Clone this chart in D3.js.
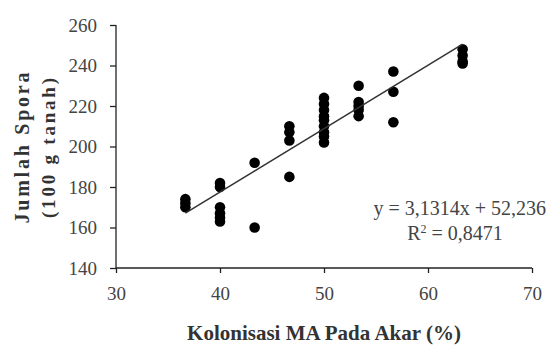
<!DOCTYPE html>
<html>
<head>
<meta charset="utf-8">
<script src="https://cdn.jsdelivr.net/npm/d3@7"></script>
<style>
  body { margin: 0; background: #fff; }
  svg { display: block; }
  svg text { font-family: "Liberation Serif", "DejaVu Serif", "Noto Serif", Tinos, serif; }
  .axis path, .axis line { stroke: #222; stroke-width: 1.3; }
  .axis text { font-size: 19px; fill: #444; }
</style>
</head>
<body>
<svg id="chart"></svg>
<script>
const kolonisasi = [36.67, 40, 43.33, 46.67, 50, 53.33, 56.67, 63.33]
const spora = [
  [174, 172, 170],
  [182, 180, 170, 167, 165, 163],
  [192, 160],
  [210, 207, 203, 185],
  [224, 221, 218, 215, 213, 210, 207, 205, 202],
  [230, 222, 220, 218, 215],
  [237, 227, 212],
  [248, 245, 242, 241]
]
const xTicks = [30, 40, 50, 60, 70]
const yTicks = [140, 160, 180, 200, 220, 240, 260]
const slope = 3.1314
const intercept = 52.236
const eqText = "y = 3,1314x  + 52,236"
const r2Text = "0,8471"

const W = 549, H = 347

const svg = d3.select("#chart").attr("width", W).attr("height", H)

const x = d3.scaleLinear().domain([30, 70]).range([116, 532])
const y = d3.scaleLinear().domain([140, 260]).range([268, 25])

// flatten points
const points = []
kolonisasi.forEach(function (k, i) {
  spora[i].forEach(function (s) { points.push({ x: k, y: s }) })
})

// axes
svg.append("g")
  .attr("class", "axis")
  .attr("transform", "translate(" + x(30) + ",0)")
  .call(d3.axisLeft(y).tickValues(yTicks).tickSize(6).tickPadding(13).tickFormat(d3.format("d")))

svg.append("g")
  .attr("class", "axis")
  .attr("transform", "translate(0," + y(140) + ")")
  .call(d3.axisBottom(x).tickValues(xTicks).tickSize(5).tickPadding(14).tickFormat(d3.format("d")))

// plain domain lines without end ticks
svg.selectAll(".axis .domain").remove()
svg.append("line").attr("x1", x(30)).attr("x2", x(30)).attr("y1", y(260)).attr("y2", y(140))
  .attr("stroke", "#222").attr("stroke-width", 1.3)
svg.append("line").attr("x1", x(30)).attr("x2", x(70)).attr("y1", y(140)).attr("y2", y(140))
  .attr("stroke", "#222").attr("stroke-width", 1.3)

// points
svg.append("g")
  .selectAll("circle")
  .data(points)
  .enter()
  .append("circle")
  .attr("cx", function (d) { return x(d.x) })
  .attr("cy", function (d) { return y(d.y) })
  .attr("r", 5.3)
  .attr("fill", "#000")

// trend line
const xMin = d3.min(kolonisasi), xMax = d3.max(kolonisasi)
svg.append("line")
  .attr("x1", x(xMin)).attr("y1", y(slope * xMin + intercept))
  .attr("x2", x(xMax)).attr("y2", y(slope * xMax + intercept))
  .attr("stroke", "#333").attr("stroke-width", 1.5)

// equation
svg.append("text")
  .attr("x", 546).attr("y", 215)
  .attr("text-anchor", "end")
  .style("font-size", "20px").style("fill", "#444")
  .text(eqText)

const r2 = svg.append("text")
  .attr("x", 455).attr("y", 240)
  .attr("text-anchor", "middle")
  .style("font-size", "20px").style("fill", "#444")
r2.append("tspan").text("R")
r2.append("tspan").attr("dy", -7).style("font-size", "12px").text("2")
r2.append("tspan").attr("dy", 7).text(" = " + r2Text)

// axis titles
svg.append("text")
  .attr("x", 324).attr("y", 340)
  .attr("text-anchor", "middle")
  .style("font-size", "21px").style("font-weight", "bold").style("fill", "#333")
  .text("Kolonisasi MA Pada Akar (%)")

svg.append("text")
  .attr("transform", "translate(29,148) rotate(-90)")
  .attr("text-anchor", "middle")
  .attr("textLength", 151).attr("lengthAdjust", "spacing")
  .style("font-size", "20px").style("font-weight", "bold").style("fill", "#333")
  .text("Jumlah Spora")

svg.append("text")
  .attr("transform", "translate(55,148) rotate(-90)")
  .attr("text-anchor", "middle")
  .attr("textLength", 140).attr("lengthAdjust", "spacing")
  .style("font-size", "19px").style("font-weight", "bold").style("fill", "#333")
  .text("(100  g tanah)")
</script>
</body>
</html>
